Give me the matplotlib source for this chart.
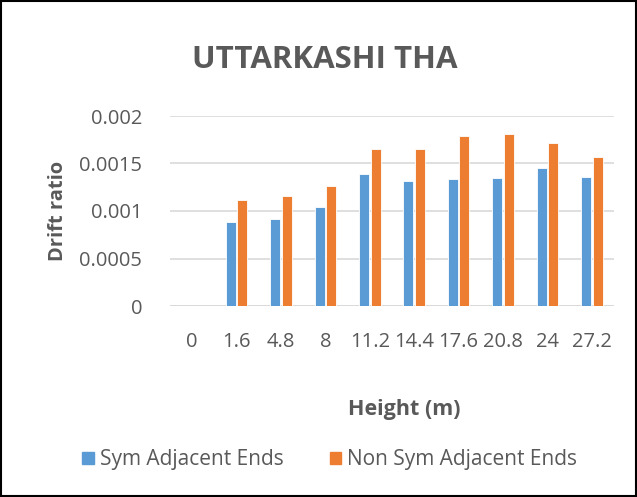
import matplotlib
matplotlib.use("Agg")
import matplotlib.pyplot as plt
import numpy as np
from matplotlib.patches import Rectangle, Patch

heights = ["0", "1.6", "4.8", "8", "11.2", "14.4", "17.6", "20.8", "24", "27.2"]
sym = [0, 0.000889, 0.000921, 0.001037, 0.001388, 0.001318, 0.001332, 0.001346, 0.001448, 0.001360]
nonsym = [0, 0.001114, 0.001153, 0.001258, 0.001652, 0.001652, 0.001786, 0.001814, 0.001712, 0.001564]

blue = "#5B9BD5"
orange = "#ED7D31"
gray = "#595959"
plt.rcParams['font.family'] = ['Open Sans', 'DejaVu Sans']

fig = plt.figure(figsize=(6.37, 4.97), dpi=100)
ax = fig.add_axes([170/637, 1-306/497, 444/637, 190/497])

x = np.arange(len(heights))
w = 0.225
gap = 0.035
ax.bar(x - w/2 - gap/2, sym, w, color=blue, edgecolor="white", linewidth=0.6, zorder=3)
ax.bar(x + w/2 + gap/2, nonsym, w, color=orange, edgecolor="white", linewidth=0.6, zorder=3)

ax.set_xlim(-0.5, len(heights) - 0.5)
ax.set_ylim(0, 0.002)
ax.set_yticks([0, 0.0005, 0.001, 0.0015, 0.002])
ax.set_yticklabels(["0", "0.0005", "0.001", "0.0015", "0.002"])
ax.set_xticks(x)
ax.set_xticklabels(heights)
ax.tick_params(axis='both', length=0, labelsize=14.5, colors=gray)
ax.tick_params(axis='x', pad=19)
ax.tick_params(axis='y', pad=20)
ax.grid(axis='y', color="#D9D9D9", linewidth=1.2, zorder=0)
for s in ax.spines.values():
    s.set_visible(False)
ax.axhline(0, color="#D9D9D9", linewidth=1.2, zorder=1)

fig.text(325/637, 1-60/497, "UTTARKASHI THA", ha='center', va='center',
         fontsize=22.5, fontweight='bold', color=gray)
fig.text(58/637, 1-211/497, "Drift ratio", ha='center', va='center', rotation=90,
         fontsize=14.5, fontweight='bold', color=gray)
fig.text(404/637, 1-410/497, "Height (m)", ha='center', va='center',
         fontsize=15.5, fontweight='bold', color=gray)

handles = [Patch(color=blue), Patch(color=orange)]
fig.legend(handles, ["Sym Adjacent Ends", "Non Sym Adjacent Ends"],
           loc='center', bbox_to_anchor=(330/637, 1-460/497), ncol=2, frameon=False,
           fontsize=15, labelcolor=gray, handlelength=0.55, handleheight=0.55,
           handletextpad=0.3, columnspacing=2.2)

fig.patches.append(Rectangle((0.002, 0.002), 0.996, 0.996, transform=fig.transFigure,
                             fill=False, edgecolor="black", linewidth=1.5))

fig.savefig("out.png", dpi=100, facecolor="white")
